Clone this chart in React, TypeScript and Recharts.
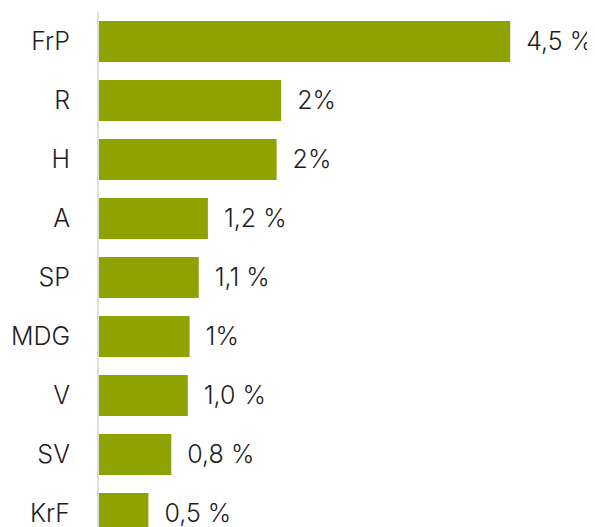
import { Bar, BarChart, LabelList, XAxis, YAxis } from 'recharts'

const partier = ['FrP', 'R', 'H', 'A', 'SP', 'MDG', 'V', 'SV', 'KrF']
const verdier = [4.5, 2.0, 1.95, 1.2, 1.1, 1.0, 0.98, 0.8, 0.55]
const etiketter = ['4,5 %', '2%', '2%', '1,2 %', '1,1 %', '1%', '1,0 %', '0,8 %', '0,5 %']

const data = partier.map((p, i) => ({ parti: p, verdi: verdier[i], etikett: etiketter[i] }))

export default function App() {
  return (
    <BarChart
      width={587}
      height={535}
      data={data}
      layout="vertical"
      margin={{ top: 4, right: 39, bottom: 0, left: 0 }}
      style={{ overflow: 'visible' }}
    >
      <XAxis type="number" domain={[0, 5]} hide />
      <YAxis
        type="category"
        dataKey="parti"
        width={90}
        axisLine={{ stroke: '#dddddd', strokeWidth: 2 }}
        tickLine={false}
        tickSize={0}
        tickMargin={28}
        tick={{ fill: '#1e1e1e', fontSize: 25, fontFamily: 'Inter', fontWeight: 300 }}
      />
      <Bar dataKey="verdi" fill="#8fa300" barSize={41} isAnimationActive={false}>
        <LabelList
          dataKey="etikett"
          position="right"
          offset={16}
          style={{ fill: '#1e1e1e', fontSize: 25, fontFamily: 'Inter', fontWeight: 300 }}
        />
      </Bar>
    </BarChart>
  )
}
